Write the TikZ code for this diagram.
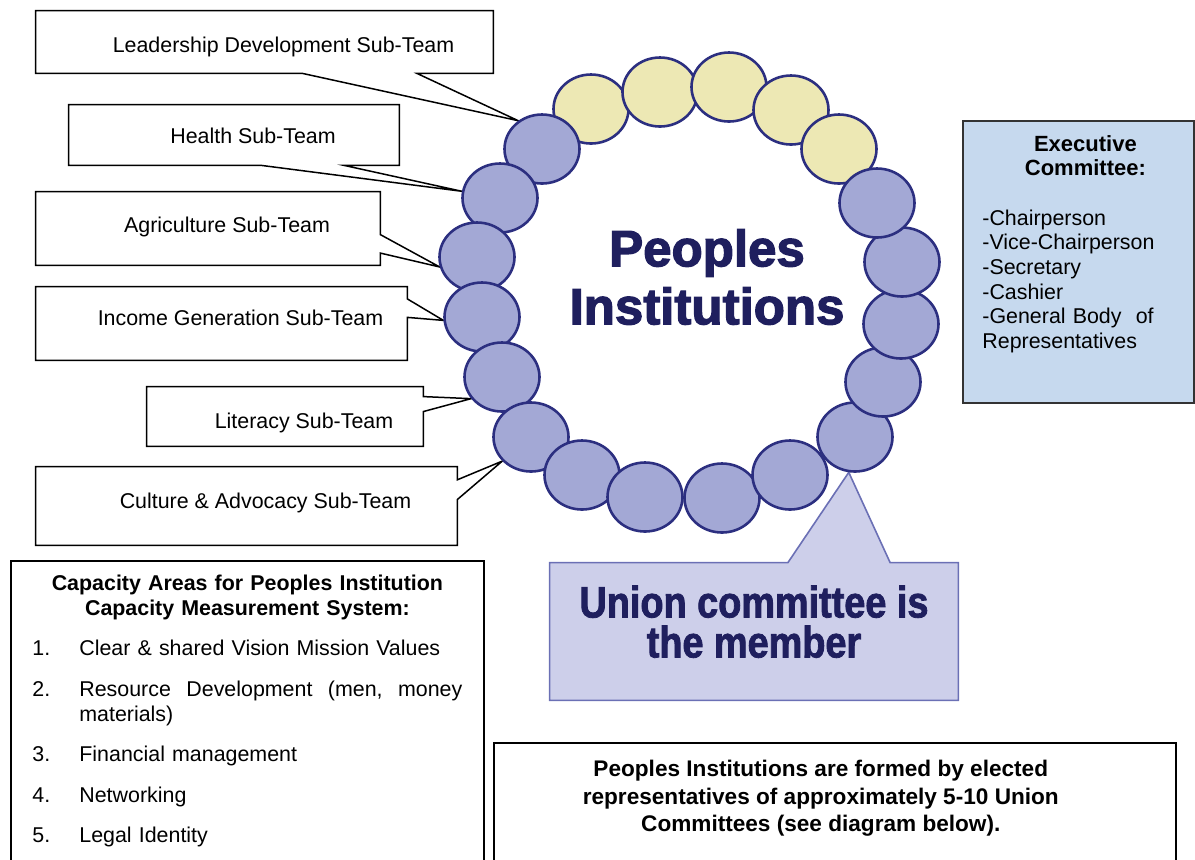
\documentclass[tikz,border=0pt]{standalone}
\usepackage{fontspec}
\setmainfont{Liberation Sans}
\newfontfamily\heavyfont[FakeBold=2.5]{Liberation Sans Bold}
\newfontfamily\heavynarrow[FakeBold=1.8,FakeStretch=0.86]{Liberation Sans Bold}
\usetikzlibrary{positioning, calc, shapes.geometric, backgrounds}
\definecolor{beadblue}{HTML}{A3A8D5}
\definecolor{beadgold}{HTML}{EDE8B4}
\definecolor{beadline}{HTML}{2C2F80}
\definecolor{navytext}{HTML}{1F1F5E}
\definecolor{unionfill}{HTML}{CDCFEA}
\definecolor{unionline}{HTML}{6B70B5}
\definecolor{execfill}{HTML}{C6D9EE}

\begin{document}
\begin{tikzpicture}[
  x=0.5pt, y=-0.5pt, font=\fontsize{10.7}{13}\selectfont,
  bead/.style={ellipse, draw=beadline, line width=1.3pt, fill=beadblue,
    minimum width=37.5pt, minimum height=34.5pt, inner sep=0pt},
  teambox/.style={inner sep=0pt, text height=8pt, text depth=2.3pt,
    execute at begin node={\hspace*{19pt}}},
  callout/.style={draw=black, line width=0.75pt, fill=white},
  unioncallout/.style={draw=unionline, line width=0.8pt, fill=unionfill},
  plainbox/.style={draw=black, line width=0.8pt, anchor=north west, inner sep=0pt}
]
\useasboundingbox (0,0) rectangle (1195,859);

% ring of union committees
\foreach \id/\x/\y in {y1/591/109, y2/660/92, y3/729/87, y4/791/110, y5/839/149}
  \node[bead, fill=beadgold] (\id) at (\x,\y) {};
\foreach \id/\x/\y in {l1/542/149, l2/500/198, l3/477/257, l4/482/317, l5/502/377,
    l6/531/437, b1/582/475, b2/645/497, b3/722/498, b4/790/475,
    r5/855/437, r4/883/382, r3/901/324, r2/902/262, r1/877/203}
  \node[bead] (\id) at (\x,\y) {};

\node[font=\heavyfont\fontsize{25.5}{29}\selectfont, text=navytext, align=center] (title) at (707,277) {Peoples\\Institutions};

% sub-teams (text sits a little off centre, as in the callout layout)
\node[teambox, text height=13pt, minimum width=228.5pt, minimum height=31pt] (lead) at (264.5,42) {Leadership Development Sub-Team};
\node[teambox, text height=11pt, minimum width=165pt, minimum height=30pt] (health) at (234,135) {Health Sub-Team};
\node[teambox, text depth=4.3pt, minimum width=172pt, minimum height=36.5pt] (agri) at (208,228.5) {Agriculture Sub-Team};
\node[teambox, text depth=6.3pt, minimum width=185.5pt, minimum height=36.5pt] (income) at (221.5,323.5) {Income Generation Sub-Team};
\node[teambox, text height=14pt, minimum width=138pt, minimum height=29.5pt] (literacy) at (285,416.5) {Literacy Sub-Team};
\node[teambox, text depth=5.3pt, minimum width=210.5pt, minimum height=39pt] (culture) at (246.5,506) {Culture \& Advocacy Sub-Team};

% union committee
\node[font=\heavynarrow\fontsize{22}{20}\selectfont, text=navytext, align=center,
  minimum width=204pt, minimum height=68.5pt, inner sep=0pt, text depth=10pt] (union) at (754,631.5) {Union committee is\\the member};

\begin{scope}[on background layer]
\draw[callout] (lead.north west) -- (lead.north east) -- (lead.south east)
  -- ($(lead.south west)!.833!(lead.south east)$) -- (l1.130)
  -- ($(lead.south west)!.583!(lead.south east)$) -- (lead.south west) -- cycle;
\draw[callout] (health.north west) -- (health.north east) -- (health.south east)
  -- ($(health.south west)!.833!(health.south east)$) -- (l2.170)
  -- ($(health.south west)!.583!(health.south east)$) -- (health.south west) -- cycle;
\draw[callout] (agri.north west) -- (agri.north east)
  -- ($(agri.north east)!.583!(agri.south east)$) -- (l3.195)
  -- ($(agri.north east)!.833!(agri.south east)$) -- (agri.south east) -- (agri.south west) -- cycle;
\draw[callout] (income.north west) -- (income.north east)
  -- ($(income.north east)!.167!(income.south east)$) -- (l4.185)
  -- ($(income.north east)!.417!(income.south east)$) -- (income.south east) -- (income.south west) -- cycle;
\draw[callout] (literacy.north west) -- (literacy.north east)
  -- ($(literacy.north east)!.167!(literacy.south east)$) -- (l5.215)
  -- ($(literacy.north east)!.417!(literacy.south east)$) -- (literacy.south east) -- (literacy.south west) -- cycle;
\draw[callout] (culture.north west) -- (culture.north east)
  -- ($(culture.north east)!.167!(culture.south east)$) -- (l6.220)
  -- ($(culture.north east)!.417!(culture.south east)$) -- (culture.south east) -- (culture.south west) -- cycle;
\draw[unioncallout] (union.south west) -- (union.north west)
  -- ($(union.north west)!.583!(union.north east)$) -- (r5.260)
  -- ($(union.north west)!.833!(union.north east)$) -- (union.north east) -- (union.south east) -- cycle;
\end{scope}

% executive committee
\node[plainbox, fill=execfill, draw=black!80, minimum width=115.5pt, minimum height=141pt] (exec) at (962,120) {};
\node[below right=7.5pt and 10pt of exec.north west, inner sep=0pt, text width=103pt, align=left,
  font=\fontsize{10.7}{12.3}\selectfont] (execlist) {{\centering\bfseries\fontsize{11}{12}\selectfont Executive\\Committee:\par}\vspace{12.7pt}-Chairperson\\-Vice-Chairperson\\-Secretary\\-Cashier\\-General Body\ \ of\\Representatives};

% capacity areas
\node[plainbox, line width=0.9pt, minimum width=236.5pt, minimum height=160pt] (capbox) at (10,560) {};
\node[below=7.25pt of capbox.north, inner sep=0pt, text width=215pt, align=left,
  font=\fontsize{10.7}{12.5}\selectfont] (caplist) {{\centering\bfseries Capacity Areas for Peoples Institution\\Capacity Measurement System:\par}
  \setlength{\parskip}{7.75pt}
  \makebox[23.5pt][l]{1.}Clear \& shared Vision Mission Values\par
  \makebox[23.5pt][l]{2.}Resource\hfill Development\hfill (men,\hfill money\newline
  \hspace*{23.5pt}materials)\par
  \makebox[23.5pt][l]{3.}Financial management\par
  \makebox[23.5pt][l]{4.}Networking\par
  \makebox[23.5pt][l]{5.}Legal Identity};

% note on formation
\node[plainbox, minimum width=341pt, minimum height=70pt] (notebox) at (493,742) {};
\node[below=9pt of notebox.north, xshift=-7pt, inner sep=0pt, align=center,
  font=\bfseries\fontsize{11.3}{13.75}\selectfont] (note) {Peoples Institutions are formed by elected\\representatives of approximately 5-10 Union\\Committees (see diagram below).};
\end{tikzpicture}
\end{document}
